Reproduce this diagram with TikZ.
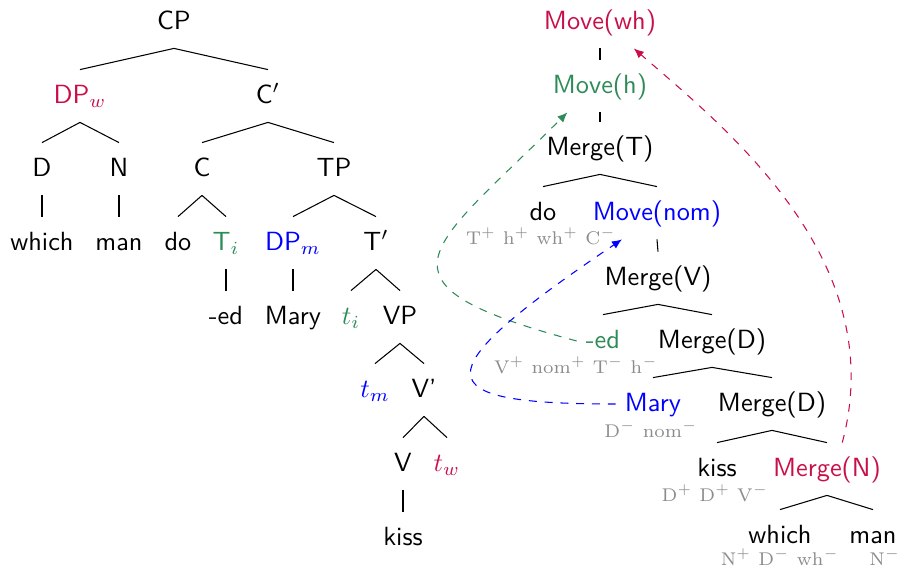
\documentclass[tikz,border=0pt]{standalone}
\usetikzlibrary{positioning,arrows.meta}

\definecolor{whred}{RGB}{200,16,72}
\definecolor{hgreen}{RGB}{46,139,87}
\definecolor{nomblue}{RGB}{0,0,255}

\begin{document}
\begin{tikzpicture}[x=0.38pt, y=0.38pt, >={Latex[length=3.8pt,width=3.2pt]}]
    \tikzstyle{cat}=[font=\sffamily, text height=9.2pt, text depth=3.8pt]
    \tikzstyle{feat}=[font=\scriptsize, text=black!45, inner sep=0pt]
    \tikzstyle{mover}=[->, dashed]

    \useasboundingbox (0,0) rectangle (900,-565);

    % Draw the derived tree
    \node[cat] (cp) at (174,-22) {CP};
    \node[cat, whred] (dpw) at (80,-96) {DP$_w$};
    \node[cat] (cbar) at (268,-96) {C$'$};
    \node[cat] (d) at (42,-169) {D};
    \node[cat] (n) at (119,-169) {N};
    \node[cat] (c) at (202,-169) {C};
    \node[cat] (tp) at (334,-169) {TP};
    \node[cat] (which) at (42,-243) {which};
    \node[cat] (man) at (119,-243) {man};
    \node[cat] (do) at (178,-243) {do};
    \node[cat, hgreen] (ti) at (226,-243) {T$_i$};
    \node[cat, nomblue] (dpm) at (293,-243) {DP$_m$};
    \node[cat] (tbar) at (376,-243) {T$'$};
    \node[cat] (ed) at (226,-317) {-ed};
    \node[cat] (mary) at (293,-317) {Mary};
    \node[cat, hgreen] (tti) at (351,-317) {$t_i$};
    \node[cat] (vp) at (400,-317) {VP};
    \node[cat, nomblue] (ttm) at (375,-390) {$t_m$};
    \node[cat] (vbar) at (424,-390) {V'};
    \node[cat] (v) at (403,-464) {V};
    \node[cat, whred] (ttw) at (447,-464) {$t_w$};
    \node[cat] (kiss) at (403,-538) {kiss};

    % Draw the derivation tree
    \node[cat, whred] (mwh) at (600,-22) {Move(wh)};
    \node[cat, hgreen] (mh) at (600,-86) {Move(h)};
    \node[cat] (mT) at (600,-148) {Merge(T)};
    \node[cat] (rdo) at (543,-213) {do};
    \node[cat, nomblue] (mnom) at (657,-213) {Move(nom)};
    \node[cat] (mV) at (658,-278) {Merge(V)};
    \node[cat, hgreen] (red) at (603,-341) {-ed};
    \node[cat] (mD1) at (712,-341) {Merge(D)};
    \node[cat, nomblue] (rmary) at (653,-404) {Mary};
    \node[cat] (mD2) at (772,-404) {Merge(D)};
    \node[cat] (rkiss) at (717,-469) {kiss};
    \node[cat, whred] (mN) at (827,-469) {Merge(N)};
    \node[cat] (rwhich) at (780,-536) {which};
    \node[cat] (rman) at (873,-536) {man};

    % Feature strings of the lexical items
    \node[feat] (f-do) at (541,-236) {T$^+$ h$^+$ wh$^+$ C$^-$};
    \node[feat] (f-ed) at (576,-365) {V$^+$ nom$^+$ T$^-$ h$^-$};
    \node[feat] (f-mary) at (651,-429) {D$^-$ nom$^-$};
    \node[feat] (f-kiss) at (715,-493) {D$^+$ D$^+$ V$^-$};
    \node[feat] (f-which) at (780,-557) {N$^+$ D$^-$ wh$^-$};
    \node[feat] (f-man) at (885,-557) {N$^-$};

    % Connect mothers and daughters
    \foreach \from/\to in {cp/dpw, cp/cbar, dpw/d, dpw/n, cbar/c, cbar/tp,
            d/which, n/man, c/do, c/ti, tp/dpm, tp/tbar, ti/ed, dpm/mary,
            tbar/tti, tbar/vp, vp/ttm, vp/vbar, vbar/v, vbar/ttw, v/kiss}
        \draw (\from.south) -- (\to.north);

    \foreach \from/\to in {mwh/mh, mh/mT, mT/rdo, mT/mnom, mnom/mV,
            mV/red, mV/mD1, mD1/rmary, mD1/mD2, mD2/rkiss, mD2/mN,
            mN/rwhich, mN/rman}
        \draw (\from.south) -- (\to.north);

    % Movement steps
    \draw[mover, hgreen] (red.west) .. controls +(165:225) and +(225:195) .. (mh.219);
    \draw[mover, nomblue] (rmary.west) .. controls +(180:190) and +(214:245) .. (mnom.217);
    \draw[mover, whred] (mN.60) .. controls +(75:190) and +(-41:120) .. (mwh.-38);
\end{tikzpicture}
\end{document}
